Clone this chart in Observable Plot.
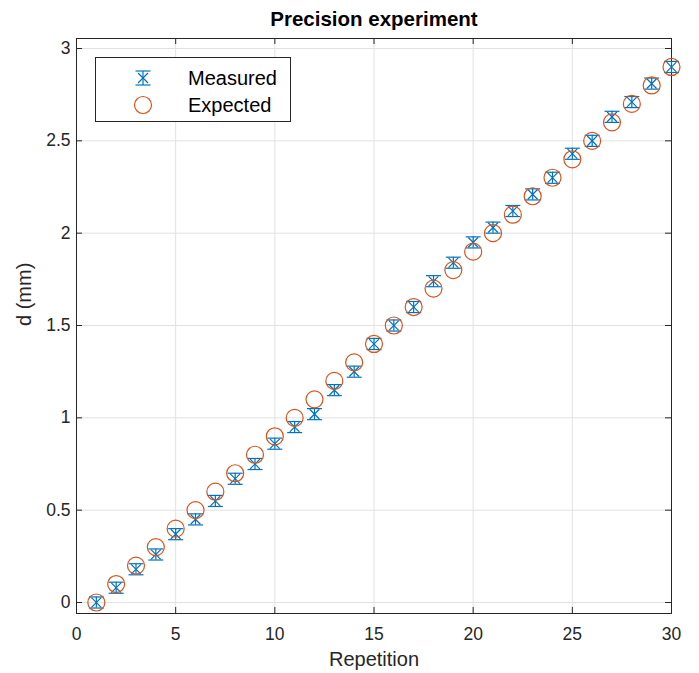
<!DOCTYPE html>
<html>
<head>
<meta charset="utf-8">
<script src="https://cdn.jsdelivr.net/npm/d3@7"></script>
<script src="https://cdn.jsdelivr.net/npm/@observablehq/plot@0.6"></script>
<style>
  html, body { margin: 0; padding: 0; background: white; }
  #wrap { position: relative; width: 699px; height: 673px; font-family: "Liberation Sans", Arial, sans-serif; }
  #legend { position: absolute; left: 95px; top: 57px; }
</style>
</head>
<body>
<div id="wrap"></div>
<script>
// ---- data ----
const repetitions = [1,2,3,4,5,6,7,8,9,10,11,12,13,14,15,16,17,18,19,20,21,22,23,24,25,26,27,28,29,30];
const measured = [0.00,0.08,0.18,0.26,0.37,0.45,0.55,0.67,0.75,0.86,0.95,1.02,1.15,1.25,1.40,1.50,1.60,1.74,1.84,1.95,2.03,2.12,2.21,2.30,2.43,2.50,2.63,2.71,2.81,2.90];
const errors = [0.03,0.03,0.03,0.03,0.03,0.03,0.03,0.03,0.03,0.03,0.03,0.03,0.03,0.03,0.03,0.03,0.03,0.03,0.03,0.03,0.03,0.03,0.03,0.03,0.03,0.03,0.03,0.03,0.03,0.03];
const expected = [0.0,0.1,0.2,0.3,0.4,0.5,0.6,0.7,0.8,0.9,1.0,1.1,1.2,1.3,1.4,1.5,1.6,1.7,1.8,1.9,2.0,2.1,2.2,2.3,2.4,2.5,2.6,2.7,2.8,2.9];
const xTicks = [0,5,10,15,20,25,30];
const yTicks = [0,0.5,1,1.5,2,2.5,3];
const seriesNames = ["Measured", "Expected"];
const titleText = "Precision experiment";
const xLabel = "Repetition";
const yLabel = "d (mm)";

// ---- styling ----
const blue = "#0072BD";
const orange = "#D95319";
const axisColor = "#262626";
const gridColor = "#e1e1e1";

const data = repetitions.map((r, i) => ({r, m: measured[i], e: errors[i], exp: expected[i]}));

const capSymbol = {
  draw(ctx, size) {
    const r = Math.sqrt(size / Math.PI);
    ctx.moveTo(-r, 0);
    ctx.lineTo(r, 0);
  }
};

const W = 699, H = 673;
const mL = 76, mR = 28, mT = 38, mB = 60;
const innerW = W - mL - mR, innerH = H - mT - mB;
const tickLen = 6;

const chart = Plot.plot({
  width: W,
  height: H,
  marginLeft: mL,
  marginRight: mR,
  marginTop: mT,
  marginBottom: mB,
  style: {fontFamily: "'Liberation Sans', Arial, sans-serif", background: "white", overflow: "visible", color: axisColor},
  x: {domain: [0, 30]},
  y: {domain: [-0.0596, 3.0542]},
  marks: [
    Plot.gridX(xTicks, {stroke: gridColor, strokeOpacity: 1}),
    Plot.gridY(yTicks, {stroke: gridColor, strokeOpacity: 1}),
    Plot.frame({stroke: axisColor, strokeWidth: 1}),
    // inward ticks
    Plot.tickX(xTicks, {x: d => d, insetTop: innerH - tickLen, stroke: axisColor}),
    Plot.tickX(xTicks, {x: d => d, insetBottom: innerH - tickLen, stroke: axisColor}),
    Plot.tickY(yTicks, {y: d => d, insetRight: innerW - tickLen, stroke: axisColor}),
    Plot.tickY(yTicks, {y: d => d, insetLeft: innerW - tickLen, stroke: axisColor}),
    Plot.axisX(xTicks, {tickSize: 0, tickPadding: 14, fontSize: 17.5, label: null, color: axisColor, tickFormat: d => String(d)}),
    Plot.axisY(yTicks, {tickSize: 0, tickPadding: 6, fontSize: 17.5, label: null, color: axisColor, tickFormat: d => String(d)}),
    // error bars
    Plot.ruleX(data, {x: "r", y1: d => d.m - d.e, y2: d => d.m + d.e, stroke: blue, strokeWidth: 1.2}),
    Plot.dot(data, {x: "r", y: d => d.m + d.e, symbol: capSymbol, r: 7.5, stroke: blue, strokeWidth: 1.2}),
    Plot.dot(data, {x: "r", y: d => d.m - d.e, symbol: capSymbol, r: 7.5, stroke: blue, strokeWidth: 1.2}),
    Plot.dot(data, {x: "r", y: "m", symbol: "times", r: 4.5, stroke: blue, strokeWidth: 1.2}),
    // expected
    Plot.dot(data, {x: "r", y: "exp", r: 8.5, stroke: orange, fill: "none", strokeWidth: 1.2}),
    // texts
    Plot.text([titleText], {frameAnchor: "top", dy: -27, fontSize: 20.5, fontWeight: "bold", fill: "black"}),
    Plot.text([xLabel], {frameAnchor: "bottom", dy: 52, fontSize: 20, fill: axisColor}),
    Plot.text([yLabel], {frameAnchor: "left", dx: -52, rotate: -90, fontSize: 20, fill: axisColor})
  ]
});

const wrap = document.getElementById("wrap");
wrap.appendChild(chart);

// ---- legend ----
const legend = d3.create("svg")
  .attr("id", "legend")
  .attr("width", 197)
  .attr("height", 66)
  .style("font-family", "'Liberation Sans', Arial, sans-serif");
legend.append("rect").attr("x", 0.5).attr("y", 0.5).attr("width", 195).attr("height", 64)
  .attr("fill", "white").attr("stroke", axisColor).attr("stroke-width", 1);
const sx = 48, y1 = 21, y2 = 48;
const g1 = legend.append("g").attr("stroke", blue).attr("stroke-width", 1.2).attr("fill", "none");
g1.append("line").attr("x1", sx).attr("x2", sx).attr("y1", y1 - 7).attr("y2", y1 + 7);
g1.append("line").attr("x1", sx - 7.5).attr("x2", sx + 7.5).attr("y1", y1 - 7).attr("y2", y1 - 7);
g1.append("line").attr("x1", sx - 7.5).attr("x2", sx + 7.5).attr("y1", y1 + 7).attr("y2", y1 + 7);
g1.append("path").attr("d", `M${sx-5},${y1-5}L${sx+5},${y1+5}M${sx-5},${y1+5}L${sx+5},${y1-5}`);
legend.append("circle").attr("cx", sx).attr("cy", y2).attr("r", 8.5)
  .attr("fill", "none").attr("stroke", orange).attr("stroke-width", 1.2);
legend.append("text").attr("x", 93).attr("y", y1 + 7).attr("font-size", 20).attr("fill", "black").text(seriesNames[0]);
legend.append("text").attr("x", 93).attr("y", y2 + 7).attr("font-size", 20).attr("fill", "black").text(seriesNames[1]);
wrap.appendChild(legend.node());
</script>
</body>
</html>
